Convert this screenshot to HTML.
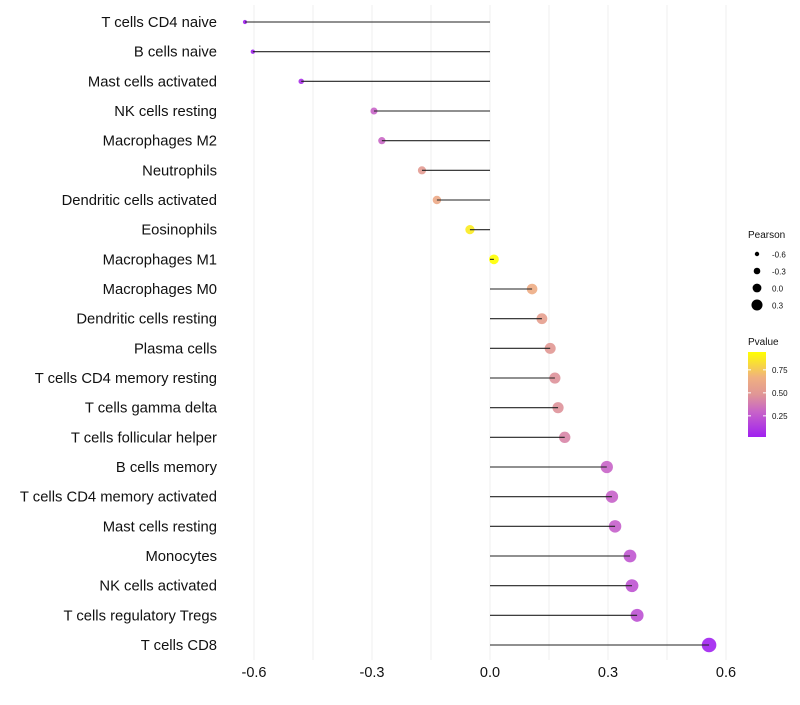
<!DOCTYPE html>
<html><head><meta charset="utf-8"><style>
body{margin:0;background:#fff;font-family:"Liberation Sans",sans-serif}
</style></head><body>
<svg id="c" width="800" height="700" xmlns="http://www.w3.org/2000/svg"></svg>
<script>
const categories=["T cells CD4 naive","B cells naive","Mast cells activated","NK cells resting","Macrophages M2","Neutrophils","Dendritic cells activated","Eosinophils","Macrophages M1","Macrophages M0","Dendritic cells resting","Plasma cells","T cells CD4 memory resting","T cells gamma delta","T cells follicular helper","B cells memory","T cells CD4 memory activated","Mast cells resting","Monocytes","NK cells activated","T cells regulatory  Tregs","T cells CD8"];
const pearson=[-0.623,-0.603,-0.48,-0.295,-0.275,-0.173,-0.135,-0.051,0.01,0.107,0.132,0.153,0.165,0.173,0.19,0.297,0.31,0.318,0.356,0.361,0.374,0.557];
const pvalue=[0.02,0.03,0.08,0.3,0.31,0.52,0.62,0.88,0.95,0.64,0.55,0.5,0.47,0.47,0.42,0.3,0.29,0.28,0.24,0.23,0.22,0.03];
const xTicks=[-0.6,-0.3,0.0,0.3,0.6];
const xTickLabels=["-0.6","-0.3","0.0","0.3","0.6"];
const sizeLegend=[-0.6,-0.3,0.0,0.3];
const sizeLegendLabels=["-0.6","-0.3","0.0","0.3"];
const pLegendTicks=[0.25,0.5,0.75];

const svg=document.getElementById('c');const NS="http://www.w3.org/2000/svg";
const xs=v=>490+v*393.3;
const ys=i=>22+i*29.667;
const rs=v=>2.2+(v+0.6)*4.4;
const lrs=v=>2.2+(v+0.6)*3.7;
const stops=[[0,[160,32,240]],[0.3,[200,100,200]],[0.5,[224,150,150]],[0.7,[240,176,128]],[1,[255,255,0]]];
function col(p){const t=Math.max(0,Math.min(1,(p-0.02)/0.93));
 for(let k=1;k<stops.length;k++){if(t<=stops[k][0]){const a=stops[k-1],b=stops[k];const u=(t-a[0])/(b[0]-a[0]);
 return `rgb(${a[1].map((x,i)=>Math.round(x+(b[1][i]-x)*u))})`;}}
 return 'rgb(255,255,0)';}
function el(t,a,txt){const e=document.createElementNS(NS,t);for(const k in a)e.setAttribute(k,a[k]);if(txt!==undefined)e.textContent=txt;svg.appendChild(e);return e;}
for(let v=-0.6;v<=0.61;v+=0.15){const g=el('line',{x1:xs(v),x2:xs(v),y1:5,y2:660,stroke:'#efefef','stroke-width':1});

}
categories.forEach((c,i)=>{
 const t=el('text',{x:217,y:ys(i)+5,'text-anchor':'end','font-size':14.8,fill:'#111'},c);
 
 
 const d=el('circle',{cx:xs(pearson[i]),cy:ys(i),r:rs(pearson[i]),fill:col(pvalue[i]),opacity:0.9});
 
 
 const l=el('line',{x1:xs(0),x2:xs(pearson[i]),y1:ys(i),y2:ys(i),stroke:'#222','stroke-width':1.1});
 
 
});
xTicks.forEach((v,i)=>{const t=el('text',{x:xs(v),y:677,'text-anchor':'middle','font-size':14.5,fill:'#111'},xTickLabels[i]);

});
const lt=el('text',{x:748,y:238,'font-size':10,fill:'#111'},'Pearson');


sizeLegend.forEach((v,i)=>{const y=254+i*17;
 const c=el('circle',{cx:757,cy:y,r:lrs(v),fill:'#000'});
 
 
 const t=el('text',{x:772,y:y+3.5,'font-size':8,fill:'#111'},sizeLegendLabels[i]);
 
 });
const pt=el('text',{x:748,y:345,'font-size':10,fill:'#111'},'Pvalue');


const defs=el('defs',{});
const lg=document.createElementNS(NS,'linearGradient');lg.setAttribute('id','g');lg.setAttribute('x1',0);lg.setAttribute('y1',1);lg.setAttribute('x2',0);lg.setAttribute('y2',0);defs.appendChild(lg);
stops.forEach(s=>{const st=document.createElementNS(NS,'stop');st.setAttribute('offset',s[0]);st.setAttribute('stop-color',`rgb(${s[1]})`);lg.appendChild(st);});
const py=p=>437-(p-0.02)*92;
const bar=el('rect',{x:748,y:352,width:18,height:85,fill:'url(#g)'});


pLegendTicks.forEach(p=>{const y=py(p);
 el('line',{x1:748,x2:751,y1:y,y2:y,stroke:'#fff'});el('line',{x1:763,x2:766,y1:y,y2:y,stroke:'#fff'});
 const t=el('text',{x:772,y:y+3,'font-size':8,fill:'#111'},p.toFixed(2));
 
 });
</script>
</body></html>
